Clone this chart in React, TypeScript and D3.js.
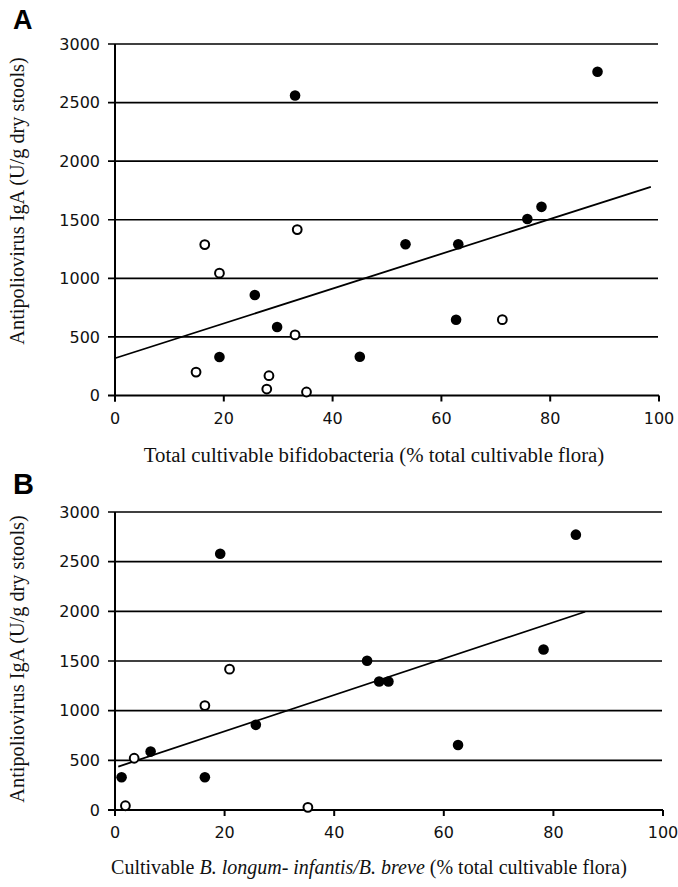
import React from "react";
import * as d3 from "d3";

// Panel A data: total cultivable bifidobacteria (%) vs antipoliovirus IgA
const aFilledX = [33.1, 25.7, 29.8, 19.2, 45.0, 53.4, 63.1, 62.7, 75.8, 78.4, 88.7];
const aFilledY = [2560, 858, 585, 329, 331, 1291, 1291, 647, 1507, 1610, 2763];
const aOpenX = [16.5, 19.2, 33.5, 33.1, 14.9, 28.3, 27.9, 35.2, 71.2];
const aOpenY = [1288, 1044, 1416, 517, 200, 169, 55, 30, 647];
const aLineX = [0, 98.5];
const aLineY = [318, 1781];

// Panel B data: cultivable B. longum-infantis/B. breve (%) vs antipoliovirus IgA
const bFilledX = [19.2, 25.7, 6.5, 1.2, 16.4, 84.1, 78.2, 46.0, 48.2, 49.9, 62.6];
const bFilledY = [2580, 857, 588, 330, 330, 2772, 1616, 1502, 1293, 1293, 655];
const bOpenX = [20.9, 16.4, 3.5, 1.9, 35.2];
const bOpenY = [1418, 1051, 521, 43, 27];
const bLineX = [0.6, 85.8];
const bLineY = [437, 1996];

const yTicks = [0, 500, 1000, 1500, 2000, 2500, 3000];
const xTicks = [0, 20, 40, 60, 80, 100];

const yTitle = "Antipoliovirus IgA (U/g dry stools)";

type PanelProps = {
  letter: string; letterY: number; letterSize: number;
  x0: number; x1: number; yTop: number; yBottom: number;
  filledX: number[]; filledY: number[]; openX: number[]; openY: number[];
  lineX: number[]; lineY: number[];
  xTitle: React.ReactNode;
  yTitleCenter: number;
  gridEnd: number;
};

const serif = "'Liberation Serif', 'Times New Roman', serif";

function Panel(p: PanelProps) {
  const x = d3.scaleLinear().domain([0, 100]).range([p.x0, p.x1]);
  const y = d3.scaleLinear().domain([0, 3000]).range([p.yBottom, p.yTop]);
  const line = d3.line<[number, number]>().x(d => x(d[0])).y(d => y(d[1]));
  const linePts: [number, number][] = p.lineX.map((v, i) => [v, p.lineY[i]]);
  const tickFont = "'DejaVu Sans', Verdana, sans-serif";
  return (
    <g>
      <text x={13} y={p.letterY} fontFamily="'Liberation Sans', Arial, sans-serif" fontWeight="bold" fontSize={p.letterSize}>{p.letter}</text>
      {yTicks.map(t => (
        <g key={t}>
          <line x1={x(0) - 7} x2={t === 0 ? x(100) : p.gridEnd} y1={y(t)} y2={y(t)} stroke="#000" strokeWidth={t === 0 ? 2 : 1.6} />
          <text x={x(0) - 15} y={y(t)} dy="0.36em" textAnchor="end" fontFamily={tickFont} fontSize={16} fill="#111">{t}</text>
        </g>
      ))}
      <line x1={x(0)} x2={x(0)} y1={y(3000)} y2={y(0) + 6} stroke="#000" strokeWidth={2} />
      {xTicks.map(t => (
        <g key={t}>
          <line x1={x(t)} x2={x(t)} y1={y(0)} y2={y(0) + 6} stroke="#000" strokeWidth={2} />
          <text x={x(t)} y={y(0) + 28} textAnchor="middle" fontFamily={tickFont} fontSize={16} fill="#111">{t}</text>
        </g>
      ))}
      <path d={line(linePts) || ""} fill="none" stroke="#000" strokeWidth={1.8} />
      {p.filledX.map((v, i) => (
        <circle key={"f" + i} cx={x(v)} cy={y(p.filledY[i])} r={5.3} fill="#000" />
      ))}
      {p.openX.map((v, i) => (
        <circle key={"o" + i} cx={x(v)} cy={y(p.openY[i])} r={4.4} fill="#fff" stroke="#000" strokeWidth={2} />
      ))}
      <text transform={`translate(24,${p.yTitleCenter}) rotate(-90)`} textAnchor="middle" fontFamily={serif} fontSize={20.3} fill="#111">{yTitle}</text>
      {p.xTitle}
    </g>
  );
}

export default function App() {
  return (
    <svg width={678} height={887} style={{ position: "absolute", left: 0, top: 0, background: "#fff" }}>
      <rect width={678} height={887} fill="#fff" />
      <Panel letter="A" letterY={29} letterSize={27} x0={115} x1={659} yTop={44} yBottom={395.5}
        filledX={aFilledX} filledY={aFilledY} openX={aOpenX} openY={aOpenY}
        lineX={aLineX} lineY={aLineY} gridEnd={658} yTitleCenter={201}
        xTitle={<text x={374} y={462} textAnchor="middle" fontFamily={serif} fontSize={20.8} fill="#111">Total cultivable bifidobacteria (% total cultivable flora)</text>} />
      <Panel letter="B" letterY={494} letterSize={29} x0={115} x1={663} yTop={512} yBottom={810}
        filledX={bFilledX} filledY={bFilledY} openX={bOpenX} openY={bOpenY}
        lineX={bLineX} lineY={bLineY} gridEnd={662} yTitleCenter={659}
        xTitle={<text x={369} y={874} textAnchor="middle" fontFamily={serif} fontSize={20} fill="#111">Cultivable <tspan fontStyle="italic">B. longum- infantis/B. breve</tspan> (% total cultivable flora)</text>} />
    </svg>
  );
}
